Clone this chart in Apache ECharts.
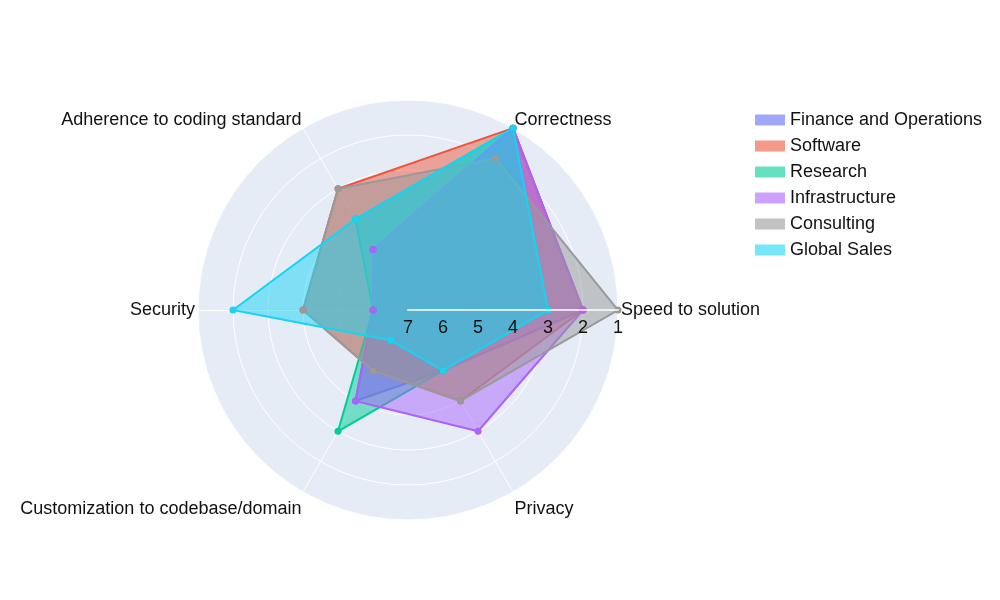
<!DOCTYPE html>
<html>
<head>
<meta charset="utf-8">
<script src="https://cdn.jsdelivr.net/npm/echarts@6/dist/echarts.min.js"></script>
<style>
  html, body { margin: 0; padding: 0; background: #fff; }
  #main { width: 1000px; height: 600px; }
</style>
</head>
<body>
<div id="main"></div>
<script>
// criteria, counterclockwise from the right
const criteria = ['Speed to solution', 'Correctness', 'Adherence to coding standard',
  'Security', 'Customization to codebase/domain', 'Privacy'];
const rankTicks = [1, 2, 3, 4, 5, 6, 7];

// rank per criterion (1 = best, drawn at the outer ring)
const finance = [2, 1, 5, 6, 4, 5];
const software = [2, 1, 3, 4, 5, 4];
const research = [3, 1, 4, 6, 3, 5];
const infrastructure = [2, 1, 5, 6, 4, 3];
const consulting = [1, 2, 3, 4, 5, 4];
const globalSales = [3, 1, 4, 2, 6, 5];

const groups = [
  { name: 'Finance and Operations', ranks: finance, color: '#636efa' },
  { name: 'Software', ranks: software, color: '#ef553b' },
  { name: 'Research', ranks: research, color: '#00cc96' },
  { name: 'Infrastructure', ranks: infrastructure, color: '#ab63fa' },
  { name: 'Consulting', ranks: consulting, color: '#9a9a9a' },
  { name: 'Global Sales', ranks: globalSales, color: '#19d3f3' }
];

const maxRank = rankTicks[rankTicks.length - 1];
const center = ['40.8%', '51.67%'];
const radius = 210;
const fontFamily = 'Arial, "Liberation Sans", Helvetica, sans-serif';
const fontSize = 18;
const nameFont = { fontSize: fontSize, color: '#111', fontFamily: fontFamily };

const chart = echarts.init(document.getElementById('main'));

chart.setOption({
  backgroundColor: '#fff',
  textStyle: { fontFamily: fontFamily },
  legend: {
    orient: 'vertical',
    left: 750,
    top: 106,
    itemGap: 8,
    itemWidth: 30,
    itemHeight: 11,
    icon: 'rect',
    itemStyle: { opacity: 0.6 },
    textStyle: nameFont,
    data: groups.map(g => g.name)
  },
  // radar gives the disc, spokes and names; values are flipped so rank 1 sits outside
  radar: {
    center: center,
    radius: radius,
    startAngle: 0,
    shape: 'circle',
    splitNumber: maxRank - 1,
    indicator: criteria.map(c => ({ name: c, min: 0, max: maxRank - 1 })),
    axisName: {
      ...nameFont,
      // names above the disc sit a bit higher, names below a bit lower
      formatter: (name) => {
        const i = criteria.indexOf(name);
        if (i === 1 || i === 2) return '{up|' + name + '}';
        if (i === 4 || i === 5) return '{down|' + name + '}';
        return name;
      },
      rich: {
        up: { ...nameFont, padding: [0, 0, 12, 0] },
        down: { ...nameFont, padding: [30, 0, 0, 0] }
      }
    },
    nameGap: 3,
    axisLine: { lineStyle: { color: '#fff', width: 1 } },
    splitLine: { lineStyle: { color: '#fff', width: 1 } },
    splitArea: { areaStyle: { color: ['#e5ecf6'] } },
    axisLabel: { show: false }
  },
  // polar only carries the radial tick labels, drawn above the traces
  polar: { center: center, radius: radius },
  angleAxis: { type: 'value', min: 0, max: 360, startAngle: 0, show: false },
  radiusAxis: {
    type: 'value',
    min: rankTicks[0],
    max: maxRank,
    interval: 1,
    inverse: true,
    z: 20,
    axisLine: { show: true, lineStyle: { color: 'rgba(255,255,255,0.75)', width: 2 } },
    axisTick: { show: false },
    splitLine: { show: false },
    axisLabel: { color: '#111', fontSize: fontSize, margin: -9, verticalAlign: 'top', fontFamily: fontFamily }
  },
  series: groups.map(g => ({
    type: 'radar',
    name: g.name,
    symbol: 'circle',
    symbolSize: 7,
    itemStyle: { color: g.color },
    lineStyle: { color: g.color, width: 2 },
    areaStyle: { color: g.color, opacity: 0.5 },
    data: [{ name: g.name, value: g.ranks.map(r => maxRank - r) }]
  }))
});
</script>
</body>
</html>
